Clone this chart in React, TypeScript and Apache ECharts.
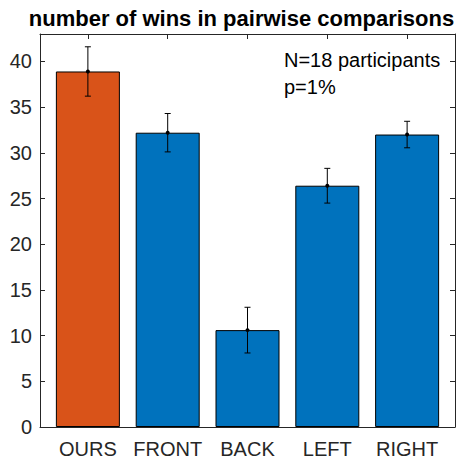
import React, { useEffect, useRef } from "react";
import * as echarts from "echarts";

// Conditions compared, in plotting order (x positions 1..5)
const categories = ["OURS", "FRONT", "BACK", "LEFT", "RIGHT"];
// Mean number of wins per condition
const meanWins = [38.9, 32.2, 10.6, 26.4, 32.0];
// Half-length of the error bar for each condition
const errWins = [2.7, 2.1, 2.5, 1.9, 1.45];
// Tick values on the count axis
const yTicks = [0, 5, 10, 15, 20, 25, 30, 35, 40];
const xTicks = [1, 2, 3, 4, 5];
const highlighted = "OURS";

const titleText = "number of wins in pairwise comparisons";
const noteLines = ["N=18 participants", "p=1%"];

const FONT = "'Liberation Sans', Arial, Helvetica, sans-serif";
const AXIS_COLOR = "#262626";

export default function App() {
  const ref = useRef<HTMLDivElement>(null);

  useEffect(() => {
    if (!ref.current) return;
    const chart = echarts.init(ref.current, undefined, { renderer: "svg" });

    const axisLine = { show: true, onZero: false, lineStyle: { color: AXIS_COLOR, width: 1 } };

    const xBase = {
      type: "value" as const,
      min: 0.4,
      max: 5.6,
      splitLine: { show: false },
      axisLine,
      axisTick: { show: true, inside: true, length: 5, customValues: xTicks, lineStyle: { color: AXIS_COLOR } },
    };
    const yBase = {
      type: "value" as const,
      min: 0,
      max: 43,
      splitLine: { show: false },
      axisLine,
      axisTick: { show: true, inside: true, length: 5, customValues: yTicks, lineStyle: { color: AXIS_COLOR } },
    };

    const barData = categories.map((name, i) => ({
      value: [i + 1, meanWins[i]],
      itemStyle: { color: name === highlighted ? "#D95319" : "#0072BD" },
    }));
    const errData = categories.map((_, i) => [i + 1, meanWins[i], errWins[i]]);

    chart.setOption({
      animation: false,
      grid: { left: 40, right: 1, top: 34, bottom: 34, containLabel: false },
      xAxis: [
        {
          ...xBase,
          position: "bottom",
          axisLabel: {
            customValues: xTicks,
            formatter: (v: number) => categories[Math.round(v) - 1] ?? "",
            fontSize: 20,
            fontFamily: FONT,
            color: AXIS_COLOR,
            margin: 12,
          },
        },
        { ...xBase, position: "top", axisLabel: { show: false } },
      ],
      yAxis: [
        {
          ...yBase,
          position: "left",
          axisLabel: {
            customValues: yTicks,
            fontSize: 20,
            fontFamily: FONT,
            color: AXIS_COLOR,
            margin: 8,
          },
        },
        { ...yBase, position: "right", axisLabel: { show: false } },
      ],
      series: [
        {
          type: "bar",
          xAxisIndex: 0,
          yAxisIndex: 0,
          barWidth: 64,
          data: barData,
          itemStyle: { borderColor: "#000", borderWidth: 1 },
          z: 2,
        },
        {
          type: "custom",
          xAxisIndex: 0,
          yAxisIndex: 0,
          data: errData,
          encode: { x: 0, y: 1 },
          z: 5,
          renderItem: (_params: any, api: any) => {
            const x = api.value(0);
            const m = api.value(1);
            const e = api.value(2);
            const top = api.coord([x, m + e]);
            const bot = api.coord([x, m - e]);
            const mid = api.coord([x, m]);
            const cap = 3;
            const stroke = { stroke: "#000", lineWidth: 1 };
            return {
              type: "group",
              children: [
                { type: "line", shape: { x1: top[0], y1: top[1], x2: bot[0], y2: bot[1] }, style: stroke },
                { type: "line", shape: { x1: top[0] - cap, y1: top[1], x2: top[0] + cap, y2: top[1] }, style: stroke },
                { type: "line", shape: { x1: bot[0] - cap, y1: bot[1], x2: bot[0] + cap, y2: bot[1] }, style: stroke },
                { type: "circle", shape: { cx: mid[0], cy: mid[1], r: 2 }, style: { fill: "#000" } },
              ],
            };
          },
        },
      ],
      graphic: [
        {
          type: "text",
          x: 241.5,
          y: 18,
          style: {
            text: titleText,
            fontSize: 22,
            fontWeight: "bold",
            fontFamily: FONT,
            fill: "#000",
            align: "center",
            verticalAlign: "middle",
          },
        },
        {
          type: "text",
          x: 284,
          y: 60,
          style: { text: noteLines[0], fontSize: 20, fontFamily: FONT, fill: "#000", align: "left", verticalAlign: "middle" },
        },
        {
          type: "text",
          x: 284,
          y: 86.5,
          style: { text: noteLines[1], fontSize: 20, fontFamily: FONT, fill: "#000", align: "left", verticalAlign: "middle" },
        },
      ],
    });

    return () => chart.dispose();
  }, []);

  return (
    <div
      ref={ref}
      style={{ position: "fixed", left: 0, top: 0, width: 456, height: 461, background: "#fff" }}
    />
  );
}
